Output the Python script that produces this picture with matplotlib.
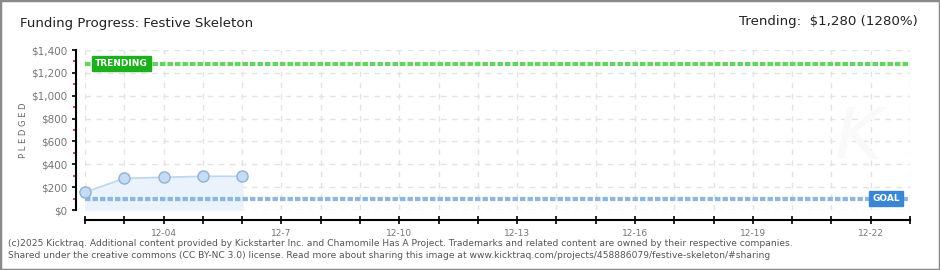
import matplotlib.pyplot as plt
import matplotlib.dates as mdates
from matplotlib.patches import Rectangle
import pandas as pd

# pledged data
dates = pd.to_datetime(["2025-12-02", "2025-12-03", "2025-12-04", "2025-12-05", "2025-12-06"])
pledged = [155, 277, 286, 295, 295]
goal = 100
trending = 1280
x_start = pd.Timestamp("2025-12-02")
x_end = pd.Timestamp("2025-12-23")
label_days = pd.to_datetime(["2025-12-04", "2025-12-07", "2025-12-10", "2025-12-13",
                             "2025-12-16", "2025-12-19", "2025-12-22"])
label_text = ["12-04", "12-7", "12-10", "12-13", "12-16", "12-19", "12-22"]
y_major = [0, 200, 400, 600, 800, 1000, 1200, 1400]
y_labels = ["$0", "$200", "$400", "$600", "$800", "$1,000", "$1,200", "$1,400"]
y_minor = [100, 300, 500, 700, 900, 1100, 1300]

plt.rcParams['font.family'] = ['DejaVu Sans']

fig = plt.figure(figsize=(9.4, 2.7), dpi=100)
fig.patch.set_facecolor('white')
fig.patches.append(Rectangle((0, 0), 1, 1, transform=fig.transFigure, fill=False,
                             edgecolor='#8a8a8a', linewidth=2.5))

ax = fig.add_axes([85/940, 60/270, 825/940, 160/270])
ax.set_xlim(x_start, x_end)
ax.set_ylim(0, 1400)

# grid
all_days = pd.date_range(x_start, x_end, freq='D')
for d in all_days:
    ax.axvline(d, color='#e3e3e3', lw=1, ls=(0, (4, 4)), zorder=0)
for v in y_major:
    ax.axhline(v, color='#e3e3e3', lw=1, ls=(0, (4, 4)), zorder=0)

# faint watermark
ax.text(pd.Timestamp("2025-12-21 16:00"), 620, "K", fontsize=52, style='italic',
        color='#f9f9f9', ha='center', va='center', zorder=0)

# pledged series
ax.fill_between(dates, pledged, 0, color='#eaf3fc', zorder=1)
ax.plot(dates, pledged, color='#bcd6f0', lw=1.2, zorder=2)
ax.plot(dates, pledged, 'o', ms=8, mfc='#c4dcf5', mec='#93b1d3', mew=1, zorder=4,
        clip_on=False)

# goal and trending lines
ax.axhline(goal, color='#8fb6e0', lw=3, ls=(0, (1.3, 0.5)), zorder=3)
ax.axhline(trending, color='#62d55a', lw=3, ls=(0, (1.3, 0.5)), zorder=3)

ax.text(x_start + pd.Timedelta(hours=6), trending, "TRENDING", fontsize=6.5,
        color='white', fontweight='bold', ha='left', va='center', zorder=5,
        bbox=dict(boxstyle='square,pad=0.35', fc='#1cb01c', ec='#1cb01c'))
ax.text(pd.Timestamp("2025-12-22 01:00"), goal, "GOAL", fontsize=6.5,
        color='white', fontweight='bold', ha='left', va='center', zorder=5,
        bbox=dict(boxstyle='square,pad=0.35', fc='#3a86d4', ec='#3a86d4'))

# axes styling
for s in ['top', 'right']:
    ax.spines[s].set_visible(False)
ax.spines['left'].set_position(('outward', 6.5))
ax.spines['bottom'].set_position(('outward', 7.2))
ax.spines['left'].set_color('black')
ax.spines['bottom'].set_color('black')
ax.spines['left'].set_linewidth(1.5)
ax.spines['bottom'].set_linewidth(1.5)

ax.set_yticks(y_major)
ax.set_yticklabels(y_labels)
ax.set_yticks(y_minor, minor=True)
ax.tick_params(axis='y', which='major', direction='out', length=3, width=1.2,
               color='black', labelsize=7.5, labelcolor='#777777', pad=3)
ax.tick_params(axis='y', which='minor', direction='out', length=2.5, width=1.2,
               color='#dd2222')

ax.set_xticks(all_days)
ax.set_xticklabels([""] * len(all_days))
ax.tick_params(axis='x', which='major', direction='inout', length=6, width=1.2,
               color='black')
ax.xaxis.set_major_formatter(mdates.DateFormatter(''))
for d, t in zip(label_days, label_text):
    ax.annotate(t, xy=(d, 0), xycoords=('data', 'axes fraction'),
                xytext=(0, -14), textcoords='offset points', ha='center', va='top',
                fontsize=6.5, color='#777777', annotation_clip=False)

ax.set_ylabel("P L E D G E D", fontsize=6, color='#666666')
ax.yaxis.set_label_coords(-0.069, 0.5)

# titles
fig.text(20/940, 1 - 24/270, "Funding Progress: Festive Skeleton", fontsize=9.6,
         color='#222222', ha='left', va='center')
fig.text(918/940, 1 - 22/270, "Trending:  $1,280 (1280%)", fontsize=9.6,
         color='#222222', ha='right', va='center')

# footer
fig.text(8/940, 1 - 243/270, "(c)2025 Kicktraq. Additional content provided by Kickstarter Inc. "
         "and Chamomile Has A Project. Trademarks and related content are owned by their "
         "respective companies.", fontsize=6.55, color='#555555', ha='left', va='center')
fig.text(8/940, 1 - 256/270, "Shared under the creative commons (CC BY-NC 3.0) license. Read more "
         "about sharing this image at www.kicktraq.com/projects/458886079/festive-skeleton/#sharing",
         fontsize=6.55, color='#555555', ha='left', va='center')

fig.savefig("out.png", dpi=100)
